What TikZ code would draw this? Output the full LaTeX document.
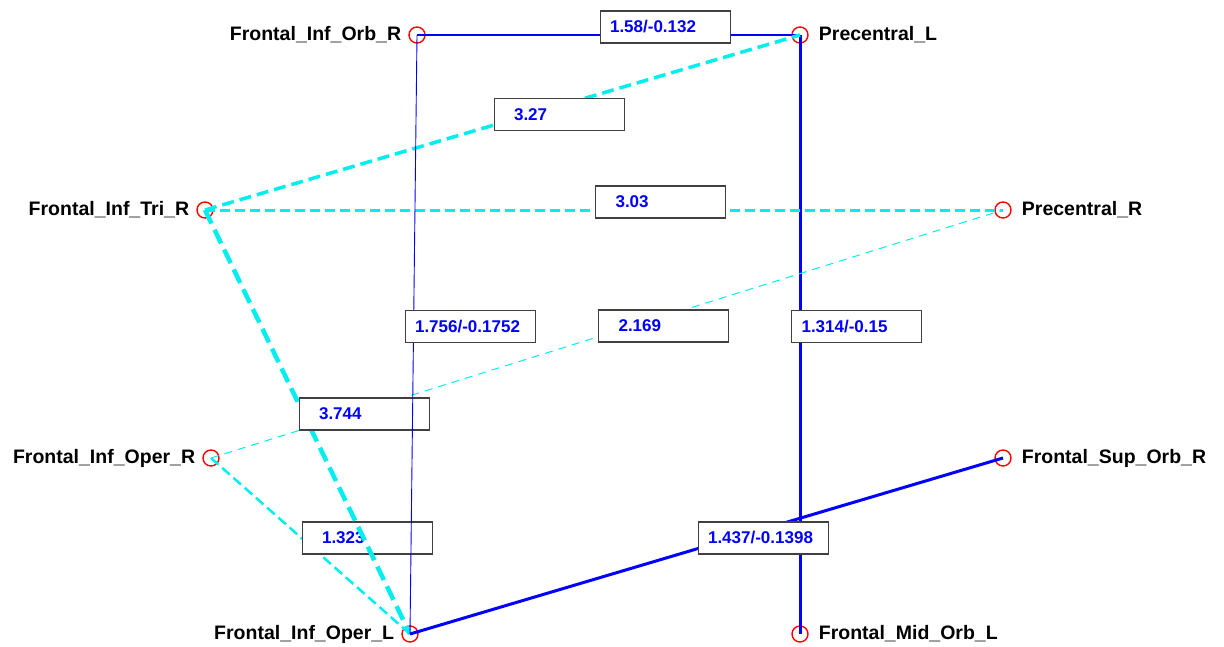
\documentclass[tikz,border=0pt]{standalone}
\usepackage{fontspec}
\setmainfont{Liberation Sans}
\definecolor{lcyan}{RGB}{0,238,238}
\definecolor{lblue}{RGB}{0,0,255}
\tikzset{
  vtx/.style={circle,draw=red,line width=1.4pt,minimum size=16pt,inner sep=0pt},
  vlab/.style={font=\fontsize{19.5}{23}\selectfont\bfseries,inner sep=0pt},
  elab/.style={draw=black!75,solid,fill=white,line width=1.1pt,text=lblue,
    font=\fontsize{17}{20}\selectfont\bfseries,minimum height=32pt,
    inner ysep=0pt,inner xsep=10pt,text width=110pt,align=left,
    anchor=west,xshift=-9pt,yshift=8pt},
  elabs/.style={elab,inner xsep=20pt,text width=90pt},
  bl/.style={draw=lblue},
  cy/.style={draw=lcyan,dash pattern=on 10pt off 5pt},
}
\begin{document}
\begin{tikzpicture}[x=1pt,y=-1pt]
\useasboundingbox (0,0) rectangle (1224,646);

\node[vtx,label={[vlab,label distance=7pt]left:Frontal\_Inf\_Orb\_R}] (orbR) at (417,35) {};
\node[vtx,label={[vlab,label distance=10pt]right:Precentral\_L}] (precL) at (800,35) {};
\node[vtx,label={[vlab,label distance=7pt]left:Frontal\_Inf\_Tri\_R}] (triR) at (205,210) {};
\node[vtx,label={[vlab,label distance=10pt]right:Precentral\_R}] (precR) at (1003,210) {};
\node[vtx,label={[vlab,label distance=7pt]left:Frontal\_Inf\_Oper\_R}] (operR) at (211,458) {};
\node[vtx,label={[vlab,label distance=10pt]right:Frontal\_Sup\_Orb\_R}] (supOrbR) at (1003,458) {};
\node[vtx,label={[vlab,label distance=7pt]left:Frontal\_Inf\_Oper\_L}] (operL) at (410,634) {};
\node[vtx,label={[vlab,label distance=10pt]right:Frontal\_Mid\_Orb\_L}] (midOrbL) at (800,634) {};

\draw[bl,line width=2pt] (orbR.center) -- (precL.center)
  node[elab,pos=0.5] (e1) {1.58/-0.132};
\draw[bl,line width=3pt] (precL.center) -- (midOrbL.center)
  node[elab,pos=0.5] (e2) {1.314/-0.15};
\draw[cy,line width=1pt,dash pattern=on 8pt off 6pt] (operR.center) -- (precR.center)
  node[elabs,pos=0.5] (e3) {2.169};
\draw[cy,line width=3pt] (triR.center) -- (precR.center)
  node[elabs,pos=0.5] (e4) {3.03};
\draw[cy,line width=3.5pt,dash pattern=on 12pt off 6pt] (triR.center) -- (precL.center)
  node[elabs,pos=0.5] (e5) {3.27};
\draw[cy,line width=2.5pt] (operR.center) -- (operL.center)
  node[elabs,pos=0.5] (e6) {1.323};
\draw[cy,line width=4.5pt,dash pattern=on 15pt off 7pt] (triR.center) -- (operL.center)
  node[elabs,pos=0.5] (e7) {3.744};
\draw[bl,line width=3pt] (operL.center) -- (supOrbR.center)
  node[elab,pos=0.5] (e8) {1.437/-0.1398};
\draw[bl,line width=0.9pt] (orbR.center) -- (operL.center)
  node[elab,pos=0.5] (e9) {1.756/-0.1752};
\end{tikzpicture}
\end{document}
